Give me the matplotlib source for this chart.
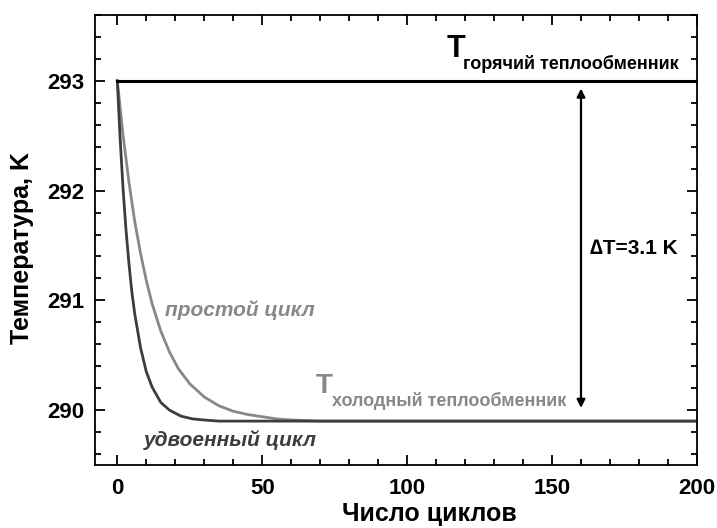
import matplotlib.pyplot as plt
from matplotlib.ticker import MultipleLocator

plt.rcParams['font.family'] = ['Liberation Sans', 'DejaVu Sans']

# hot heat exchanger (constant)
hot_x = [0, 200]
hot_y = [293.0, 293.0]

# simple cycle
simple_x = [0, 2, 4, 6, 8, 10, 12, 15, 18, 21, 25, 30, 35, 40, 45, 50, 55, 60, 70, 200]
simple_y = [293.0, 292.50, 292.08, 291.72, 291.43, 291.18, 290.97, 290.72, 290.53, 290.38,
            290.24, 290.12, 290.04, 289.99, 289.96, 289.94, 289.92, 289.91, 289.90, 289.90]

# doubled cycle
double_x = [0, 1, 2, 3, 4, 5, 6, 8, 10, 12, 15, 18, 22, 26, 30, 35, 200]
double_y = [293.0, 292.46, 292.01, 291.64, 291.34, 291.08, 290.88, 290.57, 290.35, 290.21,
            290.07, 290.00, 289.945, 289.92, 289.91, 289.90, 289.90]

fig = plt.figure(figsize=(7.17, 5.28), dpi=100)
ax = fig.add_axes([0.1325, 0.1193, 0.8395, 0.8523])

ax.plot(simple_x, simple_y, color='#888888', lw=2.0)
ax.plot(double_x, double_y, color='#3c3c3c', lw=2.0)
ax.plot(hot_x, hot_y, color='black', lw=2.2)

ax.set_xlim(-7.7, 200)
ax.set_ylim(289.5, 293.6)

ax.xaxis.set_major_locator(MultipleLocator(50))
ax.xaxis.set_minor_locator(MultipleLocator(10))
ax.yaxis.set_major_locator(MultipleLocator(1))
ax.yaxis.set_minor_locator(MultipleLocator(0.2))
ax.tick_params(which='both', direction='in', top=True, right=True, width=1.3)
ax.tick_params(which='major', length=7)
ax.tick_params(which='minor', length=4)
ax.tick_params(axis='x', pad=9)
ax.tick_params(axis='y', pad=8)
for lab in ax.get_xticklabels() + ax.get_yticklabels():
    lab.set_fontsize(16)
    lab.set_fontweight('bold')
for s in ax.spines.values():
    s.set_linewidth(1.3)

ax.set_xlabel('Число циклов', fontsize=18, fontweight='bold')
ax.set_ylabel('Температура, K', fontsize=18, fontweight='bold')
ax.xaxis.set_label_coords(0.556, -0.083)
ax.yaxis.set_label_coords(-0.102, 0.482)

# labels
ax.text(113.5, 293.22, 'T', fontsize=22, fontweight='bold', color='black', va='baseline')
ax.text(119.2, 293.15, 'горячий теплообменник', fontsize=13, fontweight='bold',
        color='black', va='center')
ax.text(68.5, 290.16, 'T', fontsize=20, fontweight='bold', color='#888888', va='baseline')
ax.text(74, 290.08, 'холодный теплообменник', fontsize=13, fontweight='bold',
        color='#888888', va='center')
ax.text(16.5, 290.91, 'простой цикл', fontsize=15, fontweight='bold', style='italic',
        color='#888888', va='center')
ax.text(9.2, 289.73, 'удвоенный цикл', fontsize=15, fontweight='bold', style='italic',
        color='#3c3c3c', va='center')
ax.text(163, 291.47, '∆T=3.1 K', fontsize=15, fontweight='bold', color='black', va='center')

ax.annotate('', xy=(160, 292.93), xytext=(160, 290.02),
            arrowprops=dict(arrowstyle='<|-|>', color='black', lw=1.6,
                            mutation_scale=12, shrinkA=0, shrinkB=0))

fig.savefig('out.png', dpi=100)
